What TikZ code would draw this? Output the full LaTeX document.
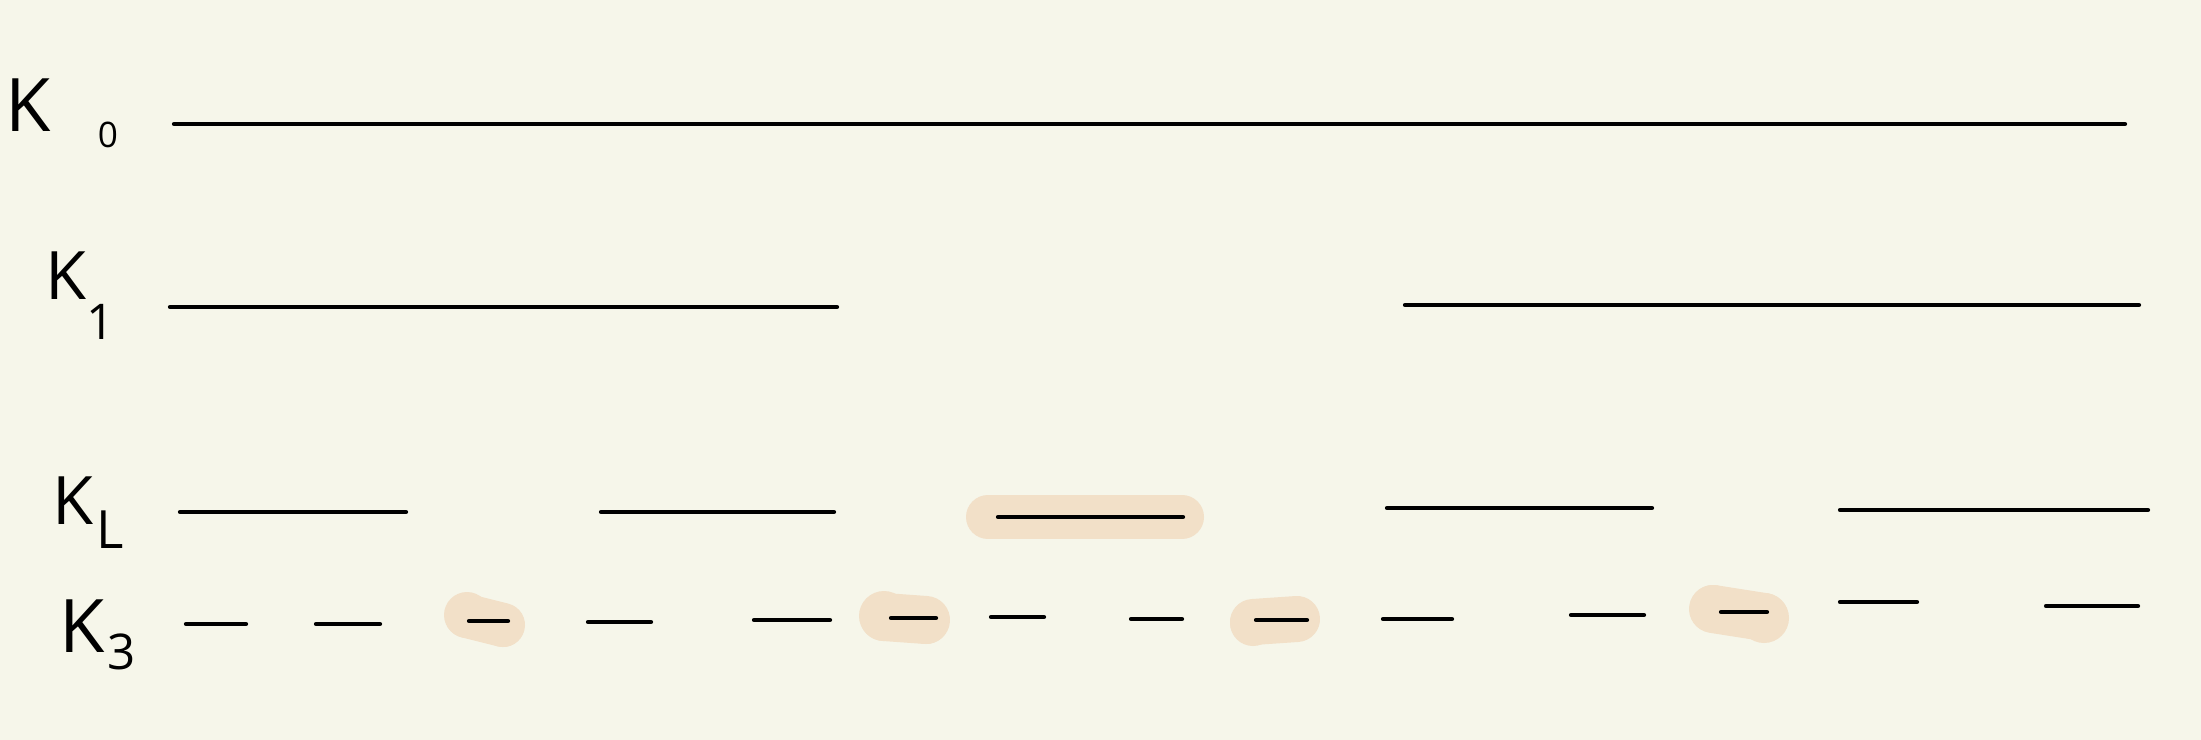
\documentclass[tikz,border=0pt]{standalone}
\usepackage{fontspec}
\setmainfont{Open Sans}
\definecolor{bgc}{RGB}{246,246,234}
\definecolor{hlc}{RGB}{242,224,200}
\begin{document}
\begin{tikzpicture}[x=0.01cm,y=-0.01cm,
  seg/.style={draw=black,line width=1.2pt,line cap=round},
  hl/.style={fill=hlc,draw=none},
  hlline/.style={draw=hlc,line cap=round},
  klab/.style={inner sep=0pt,font=\fontsize{21}{21}\selectfont},
  sublab/.style={inner sep=0pt}]
\fill[bgc] (0,0) rectangle (2201,740);
\useasboundingbox (0,0) rectangle (2201,740);
% labels
\node[klab] (k0) at (28,105) {K};
\node[sublab,font=\fontsize{10}{10}\selectfont] (s0) at (108,135) {0};
\node[klab,font=\fontsize{19}{19}\selectfont] (k1) at (66,276) {K};
\node[sublab,font=\fontsize{14}{14}\selectfont] (s1) at (101,322) {1};
\node[klab,font=\fontsize{19}{19}\selectfont] (kL) at (73,501) {K};
\node[sublab,font=\fontsize{15}{15}\selectfont] (sL) at (110,530) {L};
\node[klab] (k3) at (82,626) {K};
\node[sublab,font=\fontsize{14}{14}\selectfont] (s3) at (122,652) {3};
% highlights
\draw[hlline,line width=0.44cm] (988,517) -- (1182,517);
\fill[hl] (467,615) circle (23); \fill[hl] (503,626) circle (21);
\draw[hlline,line width=0.44cm] (467,616) -- (503,625);
\fill[hl] (884,616) circle (25); \fill[hl] (926,621) circle (23);
\draw[hlline,line width=0.48cm] (884,617) -- (926,620);
\fill[hl] (1253,623) circle (23); \fill[hl] (1297,619) circle (22);
\draw[hlline,line width=0.46cm] (1253,622) -- (1297,619);
\fill[hl] (1713,608) circle (23); \fill[hl] (1764,618) circle (25);
\draw[hlline,line width=0.48cm] (1713,609) -- (1764,617);
% K0
\coordinate (a0) at (174,124); \coordinate (b0) at (2125,124);
\draw[seg] (a0) -- (b0);
% K1
\coordinate (a1) at (170,307); \coordinate (b1) at (837,307);
\coordinate (a2) at (1405,305); \coordinate (b2) at (2139,305);
\draw[seg] (a1) -- (b1);
\draw[seg] (a2) -- (b2);
% K_L
\draw[seg] (180,512) -- (406,512);
\draw[seg] (601,512) -- (834,512);
\draw[seg] (998,517) -- (1183,517);
\draw[seg] (1387,508) -- (1652,508);
\draw[seg] (1840,510) -- (2148,510);
% K3
\draw[seg] (186,624) -- (246,624);
\draw[seg] (316,624) -- (380,624);
\draw[seg] (469,621) -- (508,621);
\draw[seg] (588,622) -- (651,622);
\draw[seg] (754,620) -- (830,620);
\draw[seg] (891,618) -- (936,618);
\draw[seg] (991,617) -- (1044,617);
\draw[seg] (1131,619) -- (1182,619);
\draw[seg] (1256,620) -- (1307,620);
\draw[seg] (1383,619) -- (1452,619);
\draw[seg] (1571,615) -- (1644,615);
\draw[seg] (1721,612) -- (1767,612);
\draw[seg] (1840,602) -- (1917,602);
\draw[seg] (2046,606) -- (2138,606);
\end{tikzpicture}
\end{document}
